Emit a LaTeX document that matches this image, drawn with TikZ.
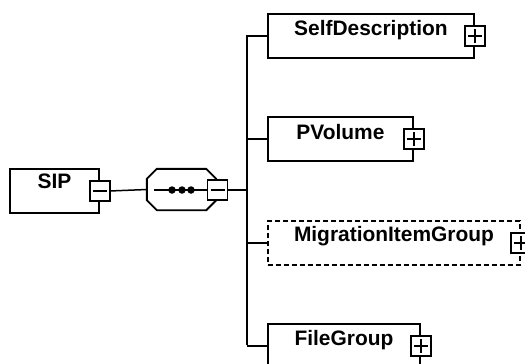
\documentclass[tikz,border=0pt]{standalone}
\usepackage{fontspec}
\setmainfont{Liberation Sans}

\begin{document}
\begin{tikzpicture}[x=1bp, y=-1bp,
  elem/.style={draw, line width=1.9bp, minimum height=44bp, inner sep=0pt, anchor=north west},
  optelem/.style={elem, dash pattern=on 5bp off 3bp},
  elemname/.style={font=\fontsize{21}{25}\selectfont\bfseries, anchor=base, inner sep=0pt},
  toggle/.style={draw, fill=white, line width=1.6bp, minimum size=20bp, inner sep=0pt},
  minusbox/.style={toggle, path picture={
      \draw[line width=1.5bp] ([xshift=-7bp]path picture bounding box.center) -- ++(14bp,0);}},
  plusbox/.style={toggle, path picture={
      \draw[line width=1.5bp] ([xshift=-7bp]path picture bounding box.center) -- ++(14bp,0)
                              ([yshift=-7bp]path picture bounding box.center) -- ++(0,14bp);}},
  seqframe/.style={minimum width=69bp, minimum height=41bp, inner sep=0pt},
  wire/.style={line width=1.5bp},
  dot/.style={circle, fill=black, inner sep=0pt, minimum size=7.5bp}]

\useasboundingbox (0,0) rectangle (525,363);

% root element
\node[elem, minimum width=89bp] (sip) at (9,168) {};
\node[elemname] (siptxt) at ([yshift=-20bp]sip.north) {SIP};

% sequence compositor: an octagon with 10bp chamfers
\node[seqframe] (seq) at (181.5,189.5) {};
\draw[line width=1.9bp]
  ([xshift=10bp]seq.north west) -- ([xshift=-10bp]seq.north east)
  -- ([yshift=-10bp]seq.north east) -- ([yshift=10bp]seq.south east)
  -- ([xshift=-10bp]seq.south east) -- ([xshift=10bp]seq.south west)
  -- ([yshift=10bp]seq.south west) -- ([yshift=-10bp]seq.north west) -- cycle;
\coordinate (seqin) at (154,190);
\node[dot] (d1) at (172,190) {};
\node[dot] (d2) at (182,190) {};
\node[dot] (d3) at (191,190) {};

% child elements
\node[elem, minimum width=206bp] (sd) at (267,13) {};
\node[elemname] (sdtxt) at ([yshift=-22bp]sd.north) {SelfDescription};
\node[elem, minimum width=145bp] (pv) at (267,116) {};
\node[elemname] (pvtxt) at ([yshift=-23bp]pv.north) {PVolume};
\node[optelem, minimum width=252bp] (mig) at (267,220) {};
\node[elemname] (migtxt) at ([yshift=-21bp]mig.north) {MigrationItemGroup};
\node[elem, minimum width=152bp] (fg) at (267,323) {};
\node[elemname] (fgtxt) at ([yshift=-22bp]fg.north) {FileGroup};

% expand / collapse toggles
\node[minusbox] (sipm) at (sip.east) {};
\node[minusbox] (seqm) at (217.5,190) {};
\node[plusbox] (sdp) at (sd.east) {};
\node[plusbox] (pvp) at (pv.east) {};
\node[plusbox] (migp) at (mig.east) {};
\node[plusbox] (fgp) at (fg.east) {};

% connectors
\coordinate (bustop) at (247,35);
\coordinate (busbot) at (247,345);
\draw[wire] (sipm.east) -- (seq.west);
\draw[wire] (seqin) -- (seqm.west);
\draw[wire] (seqm.east) -- (seqm.east -| bustop);
\draw[wire] (bustop) -- (busbot);
\draw[wire] (sd.west -| bustop) -- (sd.west);
\draw[wire] (pv.west -| bustop) -- (pv.west);
\draw[wire] (mig.west -| bustop) -- (mig.west);
\draw[wire] (fg.west -| bustop) -- (fg.west);
\end{tikzpicture}
\end{document}
